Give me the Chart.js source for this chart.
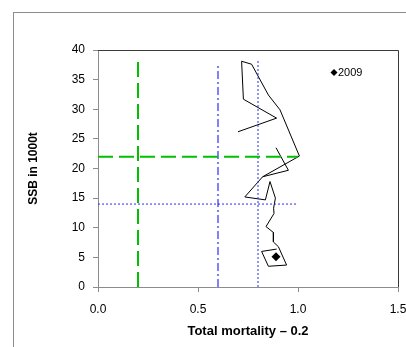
<!DOCTYPE html>
<html>
<head>
<meta charset="utf-8">
<script src="https://cdn.jsdelivr.net/npm/chart.js@4.4.1/dist/chart.umd.min.js"></script>
<style>
  html, body { margin: 0; padding: 0; background: #fff; }
  #wrap { width: 406px; height: 347px; }
</style>
</head>
<body>
<div id="wrap"><canvas id="mainChart" width="406" height="347"></canvas></div>
<script>
// stock trajectory: total mortality (x) vs SSB in 1000t (y), null = break in the line
const trajF = [0.70, 0.893, 0.727, 0.718, 0.768, 0.852, 0.91, 1.007, 0.823, 0.952, 0.89,
  null,
  0.823, 0.734, 0.837, 0.86, 0.887, 0.878, 0.88, 0.84, 0.877, 0.877, 0.902, 0.943, 0.852, 0.818, 0.893];
const trajSSB = [26.2, 28.5, 31.7, 38.1, 37.6, 32.4, 29.9, 22.1, 18.6, 19.7, 23.5,
  null,
  18.6, 15.2, 14.7, 17.8, 15.0, 13.3, 12.4, 10.2, 9.2, 7.6, 6.8, 3.7, 3.5, 6.0, 6.4];

// last year point
const lastLabel = '2009';
const lastF = [0.89];
const lastSSB = [5.1];

// reference lines
const vLineX = [0.2, 0.6, 0.8];
const vLineTop = [38, 37.5, 38.3];
const hLineY = [22, 14];
const hLineEnd = [1.0, 1.0];

const xTicks = [0, 0.5, 1.0, 1.5];
const yTicks = [0, 5, 10, 15, 20, 25, 30, 35, 40];

const FONT = "'Liberation Sans', Arial, sans-serif";

function pts(xs, ys) {
  return xs.map((x, i) => ({ x: x === null ? 0 : x, y: ys[i] }));
}

function refLine(data, color, width, dash) {
  return {
    data, showLine: true, borderColor: color, borderWidth: width, borderDash: dash,
    pointRadius: 0, fill: false, spanGaps: false
  };
}

const datasets = [
  refLine([{ x: vLineX[0], y: 0 }, { x: vLineX[0], y: vLineTop[0] }], '#00c000', 2, [15, 6]),
  refLine([{ x: 0, y: hLineY[0] }, { x: hLineEnd[0], y: hLineY[0] }], '#00c000', 2, [15, 6]),
  refLine([{ x: vLineX[1], y: 0 }, { x: vLineX[1], y: vLineTop[1] }], '#0000ff', 1, [8, 3, 2, 3]),
  refLine([{ x: vLineX[2], y: 0 }, { x: vLineX[2], y: vLineTop[2] }], '#2a2aff', 1, [2, 2]),
  refLine([{ x: 0, y: hLineY[1] }, { x: hLineEnd[1], y: hLineY[1] }], '#2a2aff', 1, [2, 2]),
  {
    data: pts(trajF, trajSSB), showLine: true, borderColor: '#000', borderWidth: 1,
    pointRadius: 0, spanGaps: false
  },
  {
    label: lastLabel, data: pts(lastF, lastSSB), showLine: false,
    pointStyle: 'rectRot', pointRadius: 4.5, backgroundColor: '#000', borderColor: '#000', borderWidth: 0
  }
];

// outer frame, plot frame and the little legend
const frame = {
  id: 'frame',
  beforeDraw(chart) {
    const c = chart.ctx;
    c.save();
    c.fillStyle = '#fff';
    c.fillRect(0, 0, chart.width, chart.height);
    c.strokeStyle = '#8c8c8c';
    c.lineWidth = 1;
    c.strokeRect(13.5, 12.5, 500, 500);
    c.restore();
  },
  afterDraw(chart) {
    const a = chart.chartArea;
    const c = chart.ctx;
    c.save();
    c.strokeStyle = '#3a3a3a';
    c.lineWidth = 1;
    c.beginPath();
    c.moveTo(a.left, a.top + 0.5);
    c.lineTo(a.right + 0.5, a.top + 0.5);
    c.lineTo(a.right + 0.5, a.bottom);
    c.stroke();
    // legend
    const lx = 334, ly = 72.5;
    c.fillStyle = '#000';
    c.beginPath();
    c.moveTo(lx, ly - 3.5);
    c.lineTo(lx + 3.5, ly);
    c.lineTo(lx, ly + 3.5);
    c.lineTo(lx - 3.5, ly);
    c.closePath();
    c.fill();
    c.font = '11px ' + FONT;
    c.textBaseline = 'middle';
    c.fillText(lastLabel, lx + 4, ly + 0.5);
    c.restore();
  }
};

const ctx = document.getElementById('mainChart').getContext('2d');

new Chart(ctx, {
  type: 'scatter',
  data: { datasets },
  plugins: [frame],
  options: {
    responsive: false,
    animation: false,
    layout: { padding: { left: 0, right: 8, top: 50, bottom: 0 } },
    plugins: {
      legend: { display: false },
      tooltip: { enabled: false },
      title: { display: false }
    },
    scales: {
      x: {
        type: 'linear', min: 0, max: 1.5,
        afterBuildTicks: s => { s.ticks = xTicks.map(v => ({ value: v })); },
        afterFit: s => { s.height = 60; s.paddingLeft = 0; s.paddingRight = 0; },
        ticks: {
          color: '#000', padding: 10, maxRotation: 0,
          font: { family: FONT, size: 12 },
          callback: v => v.toFixed(1)
        },
        grid: { drawOnChartArea: false, drawTicks: true, tickLength: 5, color: '#8c8c8c' },
        border: { color: '#8c8c8c', width: 1 },
        title: {
          display: true, text: 'Total mortality – 0.2', color: '#000',
          font: { family: FONT, size: 13, weight: 'bold' },
          padding: { top: 0, bottom: 8 }
        }
      },
      y: {
        min: 0, max: 40,
        afterBuildTicks: s => { s.ticks = yTicks.map(v => ({ value: v })); },
        afterFit: s => { s.width = 98; s.paddingTop = 0; s.paddingBottom = 0; },
        ticks: {
          color: '#000', padding: 8,
          font: { family: FONT, size: 12 }
        },
        grid: { drawOnChartArea: false, drawTicks: true, tickLength: 5, color: '#8c8c8c' },
        border: { color: '#8c8c8c', width: 1 },
        title: {
          display: true, text: 'SSB in 1000t', color: '#000',
          font: { family: FONT, size: 12, weight: 'bold' },
          padding: { top: 26, bottom: 0 }
        }
      }
    }
  }
});
</script>
</body>
</html>
